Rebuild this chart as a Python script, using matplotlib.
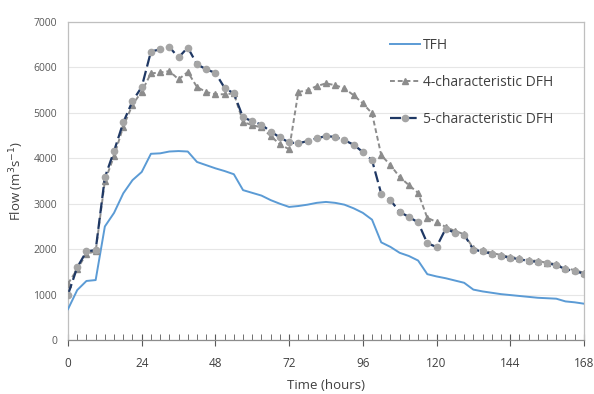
import matplotlib
matplotlib.use("Agg")
import matplotlib.pyplot as plt
import numpy as np

plt.rcParams['font.family'] = ['Open Sans', 'DejaVu Sans']

# hours, every 3 h
hours = list(range(0, 169, 3))

tfh = [680, 1100, 1300, 1320, 2500, 2800, 3230, 3520, 3700, 4100,
       4110, 4150, 4160, 4150, 3920, 3850, 3780, 3720, 3650, 3300,
       3240, 3180, 3080, 3000, 2930, 2950, 2980, 3020, 3040, 3020,
       2980, 2900, 2800, 2650, 2150, 2050, 1920, 1850, 1750, 1450,
       1400, 1360, 1310, 1260, 1110, 1070, 1040, 1010, 990, 970,
       950, 930, 920, 910, 850, 830, 800]

dfh4 = [1240, 1560, 1900, 1950, 3500, 4050, 4700, 5180, 5470, 5870,
        5890, 5920, 5740, 5900, 5570, 5460, 5410, 5410, 5430, 4800,
        4730, 4680, 4490, 4310, 4200, 5460, 5500, 5590, 5650, 5610,
        5540, 5390, 5210, 4990, 4070, 3850, 3590, 3410, 3240, 2690,
        2600, 2490, 2400, 2330, 2020, 1980, 1920, 1870, 1830, 1800,
        1760, 1740, 1700, 1670, 1580, 1540, 1480]

dfh5 = [1000, 1600, 1950, 1980, 3580, 4160, 4790, 5260, 5570, 6350,
        6400, 6450, 6220, 6440, 6070, 5960, 5880, 5550, 5430, 4900,
        4820, 4740, 4590, 4460, 4350, 4330, 4380, 4440, 4490, 4470,
        4400, 4300, 4140, 3960, 3220, 3080, 2820, 2710, 2590, 2130,
        2050, 2450, 2360, 2320, 1990, 1950, 1900, 1850, 1810, 1780,
        1740, 1720, 1690, 1650, 1560, 1520, 1460]

fig = plt.figure(figsize=(5.94, 3.94), dpi=100)
ax = fig.add_axes([0.1145, 0.137, 0.8685, 0.807])

ax.plot(hours, tfh, color='#5b9bd5', lw=1.4, label='TFH', zorder=3)
ax.plot(hours, dfh4, color='#8c8c8c', lw=1.4, ls=(0, (2.5, 1.5)),
        marker='^', ms=4.5, mfc='#8c8c8c', mec='#8c8c8c',
        label='4-characteristic DFH', zorder=4)
ax.plot(hours, dfh5, color='#1f3864', lw=1.6, ls=(0, (5, 2)),
        marker='o', ms=4.5, mfc='#a5a5a5', mec='#a5a5a5',
        label='5-characteristic DFH', zorder=5)

ax.set_xlim(0, 168)
ax.set_ylim(0, 7000)
ax.set_xticks(range(0, 169, 24))
ax.set_xticks(range(0, 169, 3), minor=True)
ax.set_yticks(range(0, 7001, 1000))
ax.grid(axis='y', color='#e6e6e6', lw=0.8)
ax.set_axisbelow(True)

for s in ax.spines.values():
    s.set_color('#bfbfbf')
    s.set_linewidth(0.9)
ax.spines['bottom'].set_color('#8c8c8c')

ax.tick_params(axis='x', which='major', direction='inout', length=8,
               color='#595959', labelsize=8.5, labelcolor='#404040', pad=8)
ax.tick_params(axis='x', which='minor', direction='in', length=4,
               color='#595959')
ax.tick_params(axis='y', length=0, labelsize=7.5, labelcolor='#595959', pad=8)

ax.set_xlabel('Time (hours)', fontsize=9.5, color='#404040', labelpad=7)
ax.set_ylabel('Flow (m$^3$s$^{-1}$)', fontsize=9.5, color='#404040', labelpad=5)

ax.legend(loc='upper right', bbox_to_anchor=(0.965, 0.99), frameon=False,
          fontsize=10, labelspacing=1.6, handlelength=2.2, handletextpad=0.2,
          labelcolor='#404040')

fig.savefig('out.png', dpi=100)
